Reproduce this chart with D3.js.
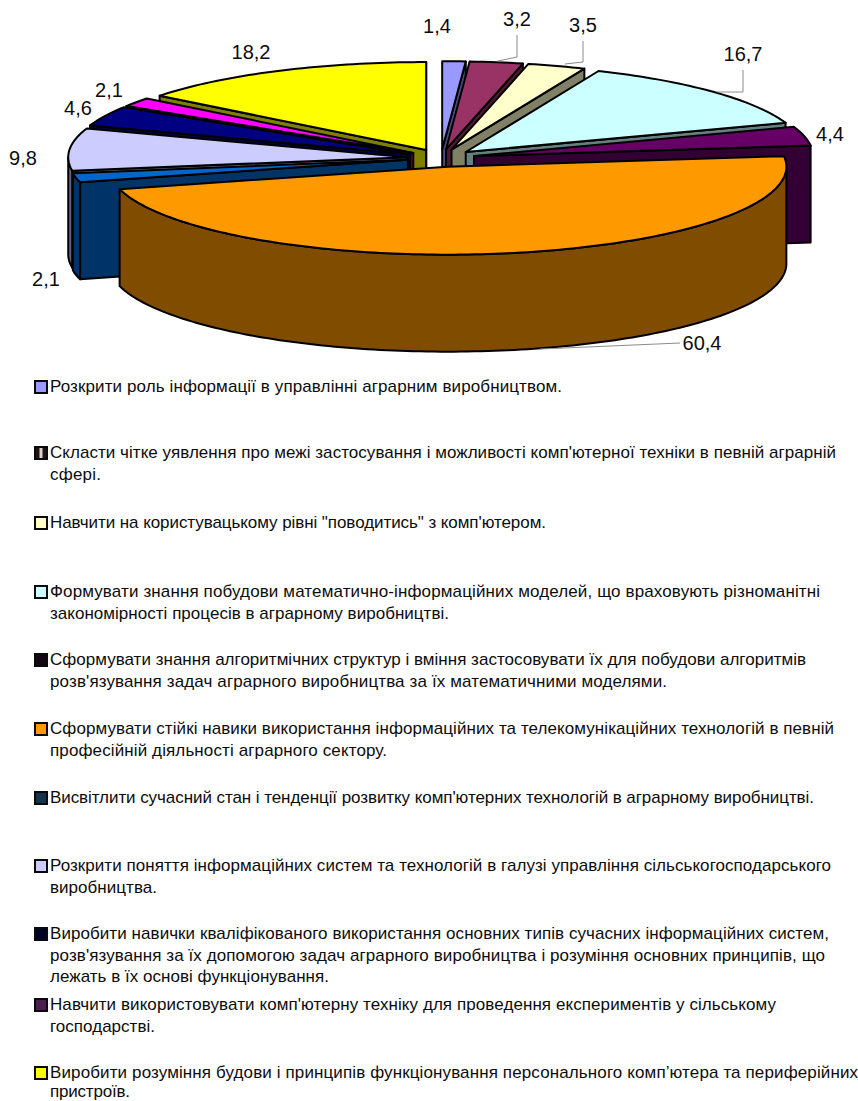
<!DOCTYPE html>
<html lang="uk">
<head>
<meta charset="utf-8">
<title>Кругова діаграма</title>
<script src="https://cdn.jsdelivr.net/npm/d3@7/dist/d3.min.js"></script>
<style>
  html, body { margin: 0; padding: 0; background: #fff; }
  svg { display: block; }
  text { font-family: "Liberation Sans", Arial, sans-serif; fill: #0c0c0c; }
</style>
</head>
<body>
<svg id="chart" width="858" height="1101"></svg>
<script>
// Series, clockwise from twelve o'clock
const shareValues = [1.4, 3.2, 3.5, 16.7, 4.4, 60.4, 2.1, 9.8, 4.6, 2.1, 18.2];
const shareLabels = ["1,4", "3,2", "3,5", "16,7", "4,4", "60,4", "2,1", "9,8", "4,6", "2,1", "18,2"];
const topColors = ["#9999FF", "#993366", "#FFFFCC", "#CCFFFF", "#660066", "#FF9900",
                   "#0066CC", "#CCCCFF", "#000080", "#FF00FF", "#FFFF00"];
const sideColors = ["#4D4D80", "#4D1933", "#808066", "#668080", "#330033", "#804C00",
                    "#003366", "#666680", "#000040", "#800080", "#808000"];
const swatchColors = ["#9999FF", "#1E1418", "#FFFFCC", "#CCFFFF", "#120812", "#FF9900",
                      "#14344E", "#CCCCFF", "#000028", "#4E1E50", "#FFFF00"];

// Legend wording, one array entry per item, broken into its printed lines
const legendLines = [
  ["Розкрити роль інформації в управлінні аграрним виробництвом."],
  ["Скласти чітке уявлення про межі застосування і можливості комп'ютерної техніки в певній аграрній", "сфері."],
  ["Навчити на користувацькому рівні \"поводитись\" з комп'ютером."],
  ["Формувати знання побудови математично-інформаційних моделей, що враховують різноманітні", "закономірності процесів в аграрному виробництві."],
  ["Сформувати знання алгоритмічних структур і вміння застосовувати їх для побудови алгоритмів", "розв'язування задач аграрного виробництва за їх математичними моделями."],
  ["Сформувати стійкі навики використання інформаційних та телекомунікаційних технологій в певній", "професійній діяльності аграрного сектору."],
  ["Висвітлити сучасний стан і тенденції розвитку комп'ютерних технологій в аграрному виробництві."],
  ["Розкрити поняття інформаційних систем та технологій в галузі управління сільськогосподарського", "виробництва."],
  ["Виробити навички кваліфікованого використання основних типів сучасних інформаційних систем,", "розв'язування за їх допомогою задач аграрного виробництва і розуміння основних принципів, що", "лежать в їх основі функціонування."],
  ["Навчити використовувати комп'ютерну техніку для проведення експериментів у сільському", "господарстві."],
  ["Виробити розуміння будови і принципів функціонування персонального комп’ютера та периферійних", "пристроїв."]
];

// Page layout of the pie, its labels and the legend
const pieCentre = { x: 441, y: 158 };
const radiusX = 339, radiusY = 88, wallDepth = 97, explode = 0.1;
const labelSpots = [[437, 33], [517, 26], [583, 32], [743, 61], [830, 141], [702, 350],
                    [46, 286], [23, 165], [78, 115], [109, 97], [251, 59]];
const leaderPaths = {
  1: [[498, 61], [517, 57], [517, 35]],
  2: [[565, 64], [583, 62], [583, 41]],
  3: [[717, 92], [743, 92], [743, 70]],
  5: [[540, 349], [680, 343]]
};
const legendTop = [392, 458, 528, 597, 665, 734, 803, 871, 939, 1010, 1078];
const legendLeading = [21.5, 21.5, 21.5, 21.5, 21.5, 21.5, 21.5, 21.5, 21.5, 21.5, 18.7];
const legendTextLeft = 50;
const legendLineEnds = [[562], [836, 101], [546], [820, 449], [806, 667], [834, 387],
                        [814], [831, 157], [829, 825, 329], [776, 155], [858, 130]];

const svg = d3.select("#chart");
const x = d3.scaleLinear().domain([-1, 1]).range([pieCentre.x - radiusX, pieCentre.x + radiusX]);
const y = d3.scaleLinear().domain([-1, 1]).range([pieCentre.y + radiusY, pieCentre.y - radiusY]);
const line = d3.line();

const slices = d3.pie().sort(null).value(d => d)(shareValues).map(s => {
  const mid = (s.startAngle + s.endAngle) / 2;
  const ox = explode * Math.sin(mid), oy = explode * Math.cos(mid);
  return { ...s, mid, ox, oy };
});

// Rim point of a slice at a given angle, lowered by dz pixels
const rim = (s, a, dz = 0) => [x(s.ox + Math.sin(a)), y(s.oy + Math.cos(a)) + dz];
const apex = (s, dz = 0) => [x(s.ox), y(s.oy) + dz];
const arcPoints = (s, a0, a1, dz = 0) => {
  const n = Math.max(2, Math.ceil((a1 - a0) / 0.02));
  return d3.range(n + 1).map(i => rim(s, a0 + (a1 - a0) * i / n, dz));
};

const pie = svg.append("g")
  .attr("stroke", "#000").attr("stroke-width", 2).attr("stroke-linejoin", "round");

// Paint from the back of the pie to the front
slices.slice().sort((a, b) => Math.cos(b.mid) - Math.cos(a.mid)).forEach(s => {
  const g = pie.append("g");
  const side = sideColors[s.index], top = topColors[s.index];

  // Cut faces that look towards the viewer
  const cut = a => [apex(s), rim(s, a), rim(s, a, wallDepth), apex(s, wallDepth)];
  if (Math.sin(s.startAngle) < 0) g.append("path").attr("d", line(cut(s.startAngle)) + "Z").attr("fill", side);
  if (Math.sin(s.endAngle) > 0) g.append("path").attr("d", line(cut(s.endAngle)) + "Z").attr("fill", side);

  // Outer wall along the front half of the rim
  const w0 = Math.max(s.startAngle, Math.PI / 2), w1 = Math.min(s.endAngle, 3 * Math.PI / 2);
  if (w1 > w0) {
    const wall = arcPoints(s, w0, w1).concat(arcPoints(s, w0, w1, wallDepth).reverse());
    g.append("path").attr("d", line(wall) + "Z").attr("fill", side);
  }

  // Top surface
  const face = [apex(s)].concat(arcPoints(s, s.startAngle, s.endAngle));
  g.append("path").attr("d", line(face) + "Z").attr("fill", top);
});

// Leader lines
svg.append("g").attr("fill", "none").attr("stroke", "#8a8a8a").attr("stroke-width", 1)
  .selectAll("path").data(Object.values(leaderPaths)).join("path").attr("d", d => line(d));

// Value labels
svg.append("g").attr("font-size", 20).attr("text-anchor", "middle")
  .selectAll("text").data(shareLabels).join("text")
  .attr("x", (d, i) => labelSpots[i][0]).attr("y", (d, i) => labelSpots[i][1])
  .text(d => d);

// Legend
const legend = svg.append("g").selectAll("g").data(legendLines).join("g")
  .attr("transform", (d, i) => `translate(0,${legendTop[i]})`);
legend.append("rect")
  .attr("x", 35).attr("y", -11).attr("width", 12).attr("height", 12)
  .attr("fill", (d, i) => swatchColors[i]).attr("stroke", "#0a0a0a").attr("stroke-width", 2);
legend.filter((d, i) => i === 1).append("rect")
  .attr("x", 39.5).attr("y", -10).attr("width", 3).attr("height", 10).attr("fill", "#d8d2c8");
legend.each(function (lines, item) {
  d3.select(this).selectAll("text").data(lines).join("text")
    .attr("x", legendTextLeft).attr("y", (d, i) => i * legendLeading[item])
    .attr("font-size", 17)
    .attr("textLength", (d, i) => legendLineEnds[item][i] - legendTextLeft)
    .attr("lengthAdjust", "spacing")
    .text(d => d);
});
</script>
</body>
</html>
